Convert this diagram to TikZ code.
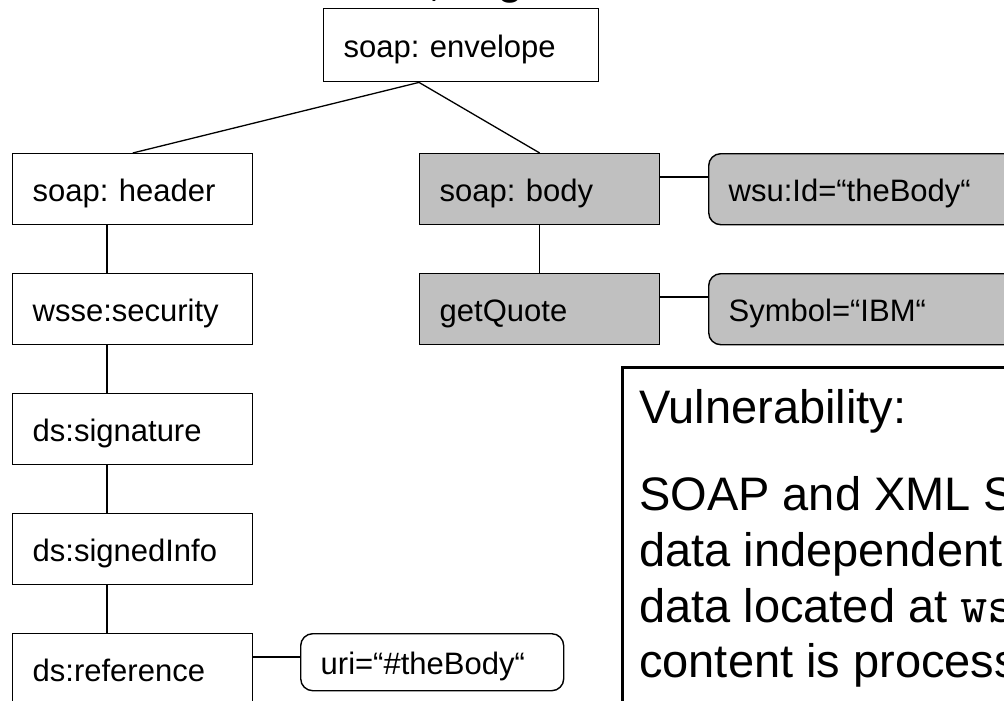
\documentclass[tikz,border=0pt]{standalone}
\usepackage{fontspec}
\setmainfont{Liberation Sans}

\definecolor{boxgray}{HTML}{C0C0C0}

\begin{document}
\frenchspacing
\begin{tikzpicture}[x=1pt,y=-1pt,
  elem/.style={draw, line width=1.4pt, anchor=north west,
    minimum width=240pt, minimum height=71pt,
    inner xsep=20pt, inner ysep=0pt, text width=200pt, align=left,
    text height=28pt, text depth=3pt,
    font=\fontsize{31}{37}\selectfont},
  signed/.style={elem, fill=boxgray},
  attr/.style={elem, rounded corners=12pt},
  conn/.style={line width=1.3pt},
  bigtext/.style={anchor=base west, inner sep=0pt,
    font=\fontsize{47}{55}\selectfont},
]
\useasboundingbox (0,0) rectangle (1004,701);
\clip (0,0) rectangle (1004,701);

% title line above the tree (only its descenders fall inside the frame)
\node[bigtext, anchor=base] (tcomma) at (435,-4) {,};
\node[bigtext, anchor=base] (tg) at (511,-6.5) {g};

% root
\node[elem, minimum width=275pt, minimum height=73pt, text width=235pt] (env) at (323,8) {soap: envelope};

% header branch
\node[elem] (header) at (12,153) {soap: header};
\node[elem] (security) at (12,273) {wsse:security};
\node[elem] (signature) at (12,393) {ds:signature};
\node[elem] (signedinfo) at (12,513) {ds:signedInfo};
\node[elem] (reference) at (12,633) {ds:reference};
\node[attr, minimum width=263pt, minimum height=57pt, text width=223pt] (uri) at (300,633) {uri=“\#theBody“};

% body branch (signed part, shaded)
\node[signed] (body) at (419,153) {soap: body};
\node[signed] (quote) at (419,273) {getQuote};
\node[attr, fill=boxgray, minimum width=340pt, text width=300pt] (wsuid) at (708,153) {wsu:Id=“theBody“};
\node[attr, fill=boxgray, minimum width=340pt, text width=300pt] (symbol) at (708,273) {Symbol=“IBM“};

% tree edges
\coordinate (envfoot) at ([xshift=96pt]env.south west);
\draw[conn] (envfoot) -- (header.north);
\draw[conn] (envfoot) -- (body.north);
\draw[conn] ([xshift=95pt]header.south west) -- ([xshift=95pt]security.north west);
\draw[conn] ([xshift=95pt]security.south west) -- ([xshift=95pt]signature.north west);
\draw[conn] ([xshift=95pt]signature.south west) -- ([xshift=95pt]signedinfo.north west);
\draw[conn] ([xshift=95pt]signedinfo.south west) -- ([xshift=95pt]reference.north west);
\draw[conn] (body.south) -- (quote.north);

% attribute links
\draw[conn] ([yshift=-24pt]body.north east) -- ([yshift=-24pt]wsuid.north west);
\draw[conn] ([yshift=-24pt]quote.north east) -- ([yshift=-24pt]symbol.north west);
\draw[conn] ([yshift=-24pt]reference.north east) -- ([yshift=-24pt]uri.north west);

% explanation panel
\node[draw, line width=3pt, anchor=north west, minimum width=420pt, minimum height=400pt] (vuln) at (620.5,365.5) {};
\node[bigtext] (vhead) at (639,423) {Vulnerability:};
\node[bigtext] (vline1) at (639,510) {SOAP and XML Signature};
\node[bigtext] (vline2) at (639,566) {data independently};
\node[bigtext] (vline3) at (639,622) {data located at {\fontsize{53}{55}\selectfont\ttfamily wsu:Id}};
\node[bigtext] (vline4) at (639,677) {content is processed};
\end{tikzpicture}
\end{document}
